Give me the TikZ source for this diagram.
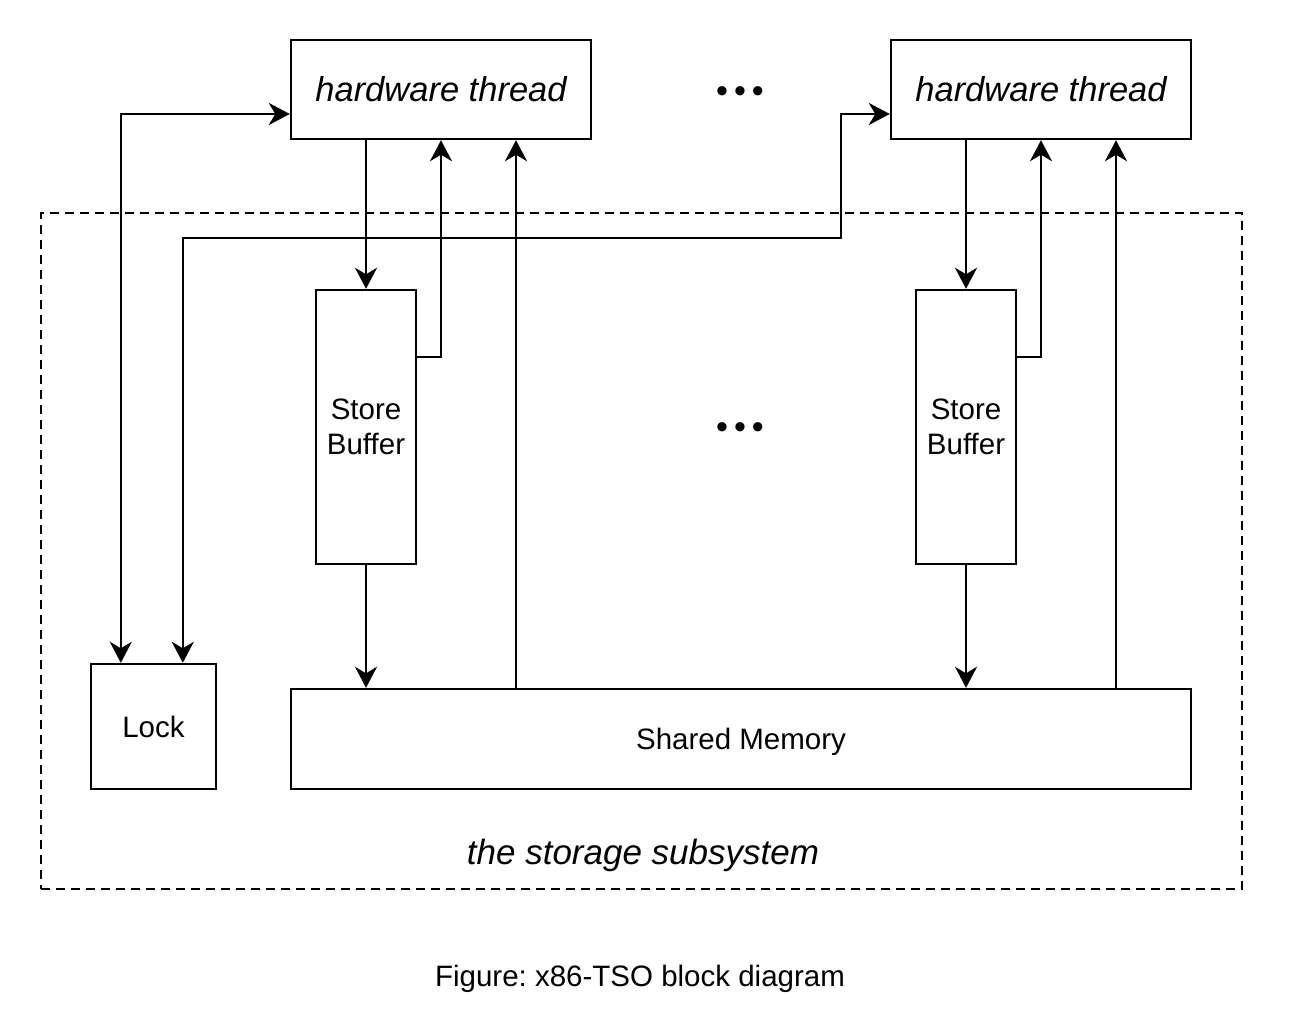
\documentclass[tikz,border=0pt]{standalone}
\usepackage{fontspec}
\setmainfont{Liberation Sans}
\usetikzlibrary{arrows.meta,calc}
\frenchspacing
\begin{document}
\begin{tikzpicture}[x=1pt,y=-1pt,
  line width=2.4pt,
  box/.style={draw,rectangle,inner sep=0pt,line width=2.4pt},
  arr/.style={-{Stealth[length=21pt,width=22pt,inset=6.5pt]}},
  darr/.style={{Stealth[length=21pt,width=22pt,inset=6.5pt]}-{Stealth[length=21pt,width=22pt,inset=6.5pt]}},
  bodytext/.style={font=\fontsize{29.5}{35}\selectfont},
  ittext/.style={font=\fontsize{34.5}{40}\selectfont\itshape},
  dotstext/.style={font=\fontsize{34}{34}\selectfont,inner sep=0pt}]
\useasboundingbox[fill=white] (0,0) rectangle (1292,1022);
% boundary of storage subsystem
\node[draw,dashed,dash pattern=on 9pt off 6pt,line width=2.2pt,rectangle,inner sep=0pt,minimum width=1201pt,minimum height=676pt] (sub) at (641.5,551) {};
% nodes
\node[box,minimum width=300pt,minimum height=99pt,ittext] (HT1) at (441,89.5) {hardware thread};
\node[box,minimum width=300pt,minimum height=99pt,ittext] (HT2) at (1041,89.5) {hardware thread};
\node[box,minimum width=100pt,minimum height=274pt,bodytext,align=center] (SB1) at (366,427) {Store\\Buffer};
\node[box,minimum width=100pt,minimum height=274pt,bodytext,align=center] (SB2) at (966,427) {Store\\Buffer};
\node[box,minimum width=125pt,minimum height=125pt,bodytext] (Lock) at (153.5,726.5) {Lock};
\node[box,minimum width=900pt,minimum height=100pt,bodytext,text height=21pt,text depth=0pt] (SM) at (741,739) {Shared Memory};
\node[dotstext] (dots1) at (740,95) {•\kern6pt•\kern6pt•};
\node[dotstext] (dots2) at (740,431) {•\kern6pt•\kern6pt•};
\node[font=\fontsize{35}{40}\selectfont\itshape] (lbl) at (643,855) {the storage subsystem};
\node[bodytext] (cap) at (640,979) {Figure: x86-TSO block diagram};
% helper coordinates
\coordinate (a1) at ([xshift=75pt]HT1.south);
\coordinate (a2) at ([xshift=75pt]HT2.south);
% connectors
\draw[darr] ([xshift=31pt]Lock.north west) |- ([yshift=-24.5pt]HT1.west);
\coordinate (bend) at (841,238);
\draw[darr] ([xshift=93pt]Lock.north west) |- (bend) |- ([yshift=-24.5pt]HT2.west);
\draw[arr] (HT1.south -| SB1.north) -- (SB1.north);
\draw[arr] ([yshift=70pt]SB1.east) -| (HT1.south);
\draw[arr] (a1 |- SM.north) -- (a1);
\draw[arr] (SB1.south) -- (SB1.south |- SM.north);
\draw[arr] (HT2.south -| SB2.north) -- (SB2.north);
\draw[arr] ([yshift=70pt]SB2.east) -| (HT2.south);
\draw[arr] (a2 |- SM.north) -- (a2);
\draw[arr] (SB2.south) -- (SB2.south |- SM.north);
\end{tikzpicture}
\end{document}
